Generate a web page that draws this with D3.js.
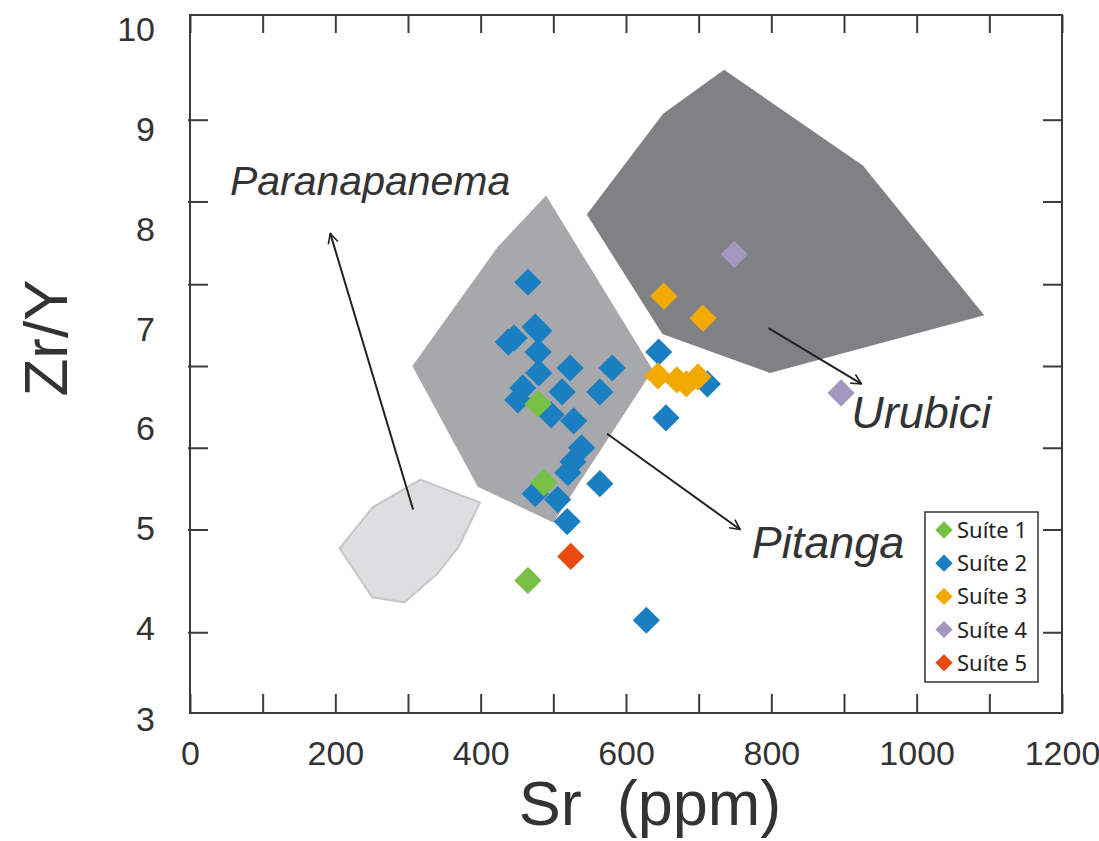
<!DOCTYPE html>
<html>
<head>
<meta charset="utf-8">
<script src="https://cdn.jsdelivr.net/npm/d3@7"></script>
<style>
  body { margin: 0; background: #fff; }
</style>
</head>
<body>
<div id="chart"></div>
<script>
// Sr (ppm), Zr/Y
var suite1 = [[479, 6.10], [487, 5.31], [465, 4.33]];
var suite2 = [
  [465, 7.32], [438, 6.72], [446, 6.76], [475, 6.87], [480, 6.83],
  [479, 6.62], [480, 6.41], [523, 6.46], [581, 6.46], [512, 6.22],
  [564, 6.22], [458, 6.26], [451, 6.14], [497, 5.99], [528, 5.93],
  [539, 5.66], [527, 5.52], [520, 5.41], [564, 5.30], [475, 5.20],
  [506, 5.14], [519, 4.92], [645, 6.62], [655, 5.96], [712, 6.30],
  [628, 3.93]
];
var suite3 = [[652, 7.18], [706, 6.96], [644, 6.38], [670, 6.34], [683, 6.30], [699, 6.37]];
var suite4 = [[749, 7.60], [896, 6.21]];
var suite5 = [[524, 4.57]];

var seriesNames = ["Suíte 1", "Suíte 2", "Suíte 3", "Suíte 4", "Suíte 5"];
var seriesColors = ["#76c043", "#1a7fc1", "#f2aa00", "#a497bf", "#e84a10"];

// fields
var paranapanema = [[206, 4.65], [251, 5.06], [317, 5.34], [399, 5.11], [370, 4.67], [341, 4.40], [295, 4.11], [251, 4.16]];
var pitanga = [[306, 6.48], [423, 7.67], [490, 8.19], [637, 6.44], [500, 4.91], [396, 5.27]];
var urubici = [[546, 8.00], [651, 9.01], [735, 9.45], [926, 8.49], [1093, 6.99], [798, 6.41], [650, 6.80]];

var fieldNames = ["Paranapanema", "Pitanga", "Urubici"];
var fieldLabelPos = [[55, 8.19], [773, 4.55], [910, 5.86]];
var fieldArrows = [
  [307, 5.04, 193, 7.81],
  [574, 5.80, 757, 4.84],
  [796, 6.86, 924, 6.30]
];

var xTicks = [0, 200, 400, 600, 800, 1000, 1200];
var yTicks = [3, 4, 5, 6, 7, 8, 9, 10];
var yTickMarks = [3.81, 4.84, 5.66, 6.48, 7.30, 8.13, 8.95];

var width = 1099,
  height = 841,
  margin = { left: 190, right: 1062, top: 15, bottom: 713 };

var svg = d3.select("#chart").append("svg")
  .attr("width", width)
  .attr("height", height)
  .attr("font-family", "'Liberation Sans', Arial, sans-serif");

var x = d3.scaleLinear().domain([0, 1200]).range([margin.left, margin.right]);
var y = d3.scaleLinear().domain([3, 10]).range([margin.bottom, margin.top]);

svg.append("defs").append("marker")
  .attr("id", "arrow")
  .attr("viewBox", "0 0 12 12")
  .attr("refX", 11).attr("refY", 6)
  .attr("markerWidth", 12).attr("markerHeight", 12)
  .attr("markerUnits", "userSpaceOnUse")
  .attr("orient", "auto")
  .append("path")
  .attr("d", "M1,1 L11,6 L1,11")
  .attr("fill", "none")
  .attr("stroke", "#222")
  .attr("stroke-width", 1.6);

var line = d3.line().x(d => x(d[0])).y(d => y(d[1]));

// fields
svg.append("path").datum(paranapanema)
  .attr("d", d => line(d) + "Z")
  .attr("fill", "#dedee0").attr("stroke", "#c6c6c8").attr("stroke-width", 2);
svg.append("path").datum(pitanga)
  .attr("d", d => line(d) + "Z")
  .attr("fill", "#a7a8ab");
svg.append("path").datum(urubici)
  .attr("d", d => line(d) + "Z")
  .attr("fill", "#7f8285");

// axes: tick marks inside the frame
svg.append("g").attr("transform", `translate(0,${margin.top})`)
  .call(d3.axisBottom(x).ticks(12).tickSize(18).tickFormat(""))
  .call(g => g.select(".domain").remove());
svg.append("g").attr("transform", `translate(0,${margin.bottom})`)
  .call(d3.axisTop(x).ticks(12).tickSize(19).tickFormat(""))
  .call(g => g.select(".domain").remove());
svg.append("g").attr("transform", `translate(${margin.left - 2},0)`)
  .call(d3.axisRight(y).tickValues(yTickMarks).tickSize(20).tickFormat(""))
  .call(g => g.select(".domain").remove());
svg.append("g").attr("transform", `translate(${margin.right},0)`)
  .call(d3.axisLeft(y).tickValues(yTickMarks).tickSize(19).tickFormat(""))
  .call(g => g.select(".domain").remove());
svg.selectAll(".tick line").attr("stroke", "#3a3a3a").attr("stroke-width", 2);

// tick labels
svg.append("g").attr("transform", `translate(0,${margin.bottom})`)
  .call(d3.axisBottom(x).tickValues(xTicks).tickSize(0).tickPadding(28).tickFormat(d3.format("d")))
  .call(g => g.select(".domain").remove())
  .selectAll("text").attr("font-size", 34).attr("fill", "#333")
  .attr("font-family", "'Liberation Sans', Arial, sans-serif");
svg.append("g").attr("transform", `translate(${margin.left},0)`)
  .call(d3.axisLeft(y).tickValues(yTicks).tickSize(0).tickPadding(35).tickFormat(d3.format("d")))
  .call(g => g.select(".domain").remove())
  .selectAll("text").attr("font-size", 34).attr("fill", "#333")
  .attr("font-family", "'Liberation Sans', Arial, sans-serif")
  .attr("transform", d => d == 3 ? "translate(0,7)" : "translate(0,15)");

// frame
svg.append("rect")
  .attr("x", margin.left).attr("y", margin.top)
  .attr("width", margin.right - margin.left).attr("height", margin.bottom - margin.top)
  .attr("fill", "none").attr("stroke", "#3a3a3a").attr("stroke-width", 2);

// arrows
svg.selectAll(".arrow").data(fieldArrows).join("line")
  .attr("class", "arrow")
  .attr("x1", d => x(d[0])).attr("y1", d => y(d[1]))
  .attr("x2", d => x(d[2])).attr("y2", d => y(d[3]))
  .attr("stroke", "#222").attr("stroke-width", 2)
  .attr("marker-end", "url(#arrow)");

// points
var diamond = d3.symbol().type(d3.symbolSquare).size(370);
var drawOrder = [1, 0, 2, 3, 4];
var allSeries = [suite1, suite2, suite3, suite4, suite5];
drawOrder.forEach(function (i) {
  svg.append("g").selectAll("path").data(allSeries[i]).join("path")
    .attr("d", diamond)
    .attr("transform", d => `translate(${x(d[0])},${y(d[1])}) rotate(45)`)
    .attr("fill", seriesColors[i]);
});

// field labels
svg.selectAll(".field").data(fieldNames).join("text")
  .attr("class", "field")
  .attr("x", (d, i) => x(fieldLabelPos[i][0]))
  .attr("y", (d, i) => y(fieldLabelPos[i][1]))
  .attr("font-size", (d, i) => i == 0 ? 41 : 45)
  .attr("font-style", "italic")
  .attr("fill", "#333")
  .text(d => d);

// legend
var legend = svg.append("g").attr("transform", "translate(925,512)");
legend.append("rect")
  .attr("width", 113).attr("height", 170)
  .attr("fill", "#fff").attr("stroke", "#333").attr("stroke-width", 1.5);
var item = legend.selectAll(".item").data(seriesNames).join("g")
  .attr("class", "item")
  .attr("transform", (d, i) => `translate(19,${18 + i * 33.2})`);
item.append("path")
  .attr("d", d3.symbol().type(d3.symbolSquare).size(150))
  .attr("transform", "rotate(45)")
  .attr("fill", (d, i) => seriesColors[i]);
item.append("text")
  .attr("x", 13).attr("dy", "0.36em")
  .attr("font-family", "'Noto Sans', 'Open Sans', sans-serif")
  .attr("font-size", 22).attr("fill", "#222")
  .text(d => d);

// axis titles
svg.append("text")
  .attr("x", 650).attr("y", 825)
  .attr("text-anchor", "middle")
  .attr("font-size", 63).attr("fill", "#333")
  .style("white-space", "pre")
  .text("Sr  (ppm)");
svg.append("text")
  .attr("transform", "translate(67,338) rotate(-90)")
  .attr("text-anchor", "middle")
  .attr("font-size", 62).attr("fill", "#333")
  .text("Zr/Y");
</script>
</body>
</html>
